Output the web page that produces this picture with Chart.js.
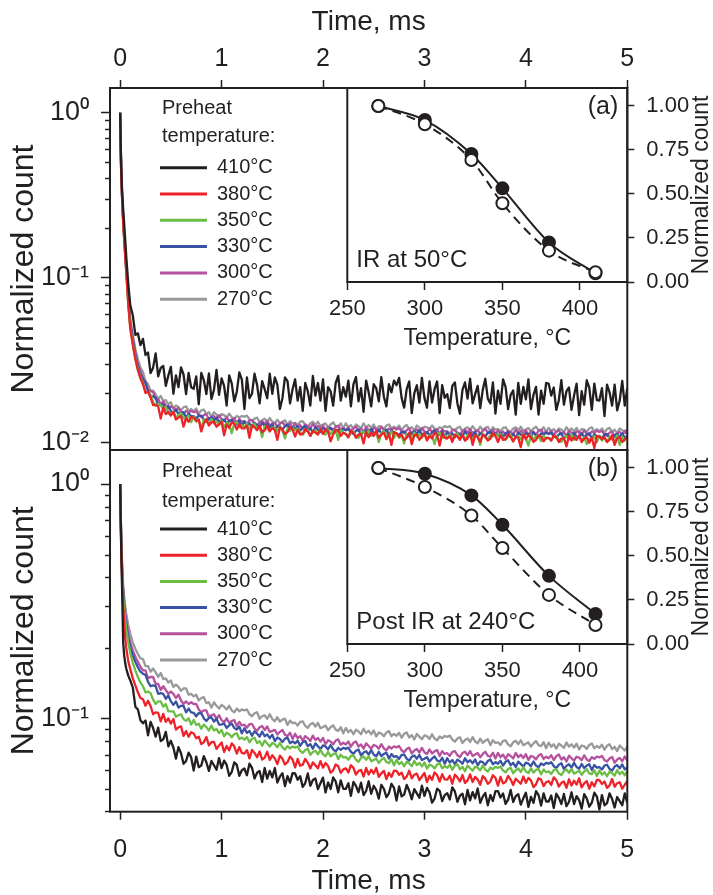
<!DOCTYPE html>
<html><head><meta charset="utf-8">
<script src="https://cdn.jsdelivr.net/npm/chart.js@4.4.1/dist/chart.umd.min.js"></script>
<style>
html,body{margin:0;padding:0;background:#fff;}
#wrap{position:relative;width:713px;height:895px;overflow:hidden;background:#fff;}
canvas{position:absolute;left:0;top:0;}
</style></head><body>
<div id="wrap">
<canvas id="mainA" width="713" height="895"></canvas>
<canvas id="mainB" width="713" height="895"></canvas>
<canvas id="insetA" width="713" height="895"></canvas>
<canvas id="insetB" width="713" height="895"></canvas>
</div>
<script>
// ---------------- DATA ----------------
const tempLabels = ['410°C','380°C','350°C','330°C','300°C','270°C'];
const legendTitle = ['Preheat','temperature:'];
const timeTicks = [0,1,2,3,4,5];
const decadesA = [0.01,0.1,1];
const decadeLabelsA = ['10⁻²','10⁻¹','10⁰'];
const minorA = [0.02,0.03,0.04,0.05,0.06,0.07,0.08,0.09,0.2,0.3,0.4,0.5,0.6,0.7,0.8,0.9];
const decadesB = [0.1,1];
const decadeLabelsB = ['10⁻¹','10⁰'];
const minorB = [0.04,0.05,0.06,0.07,0.08,0.09,0.2,0.3,0.4,0.5,0.6,0.7,0.8,0.9];

// time, ms
const time = [0,0.01,0.02,0.03,0.04,0.05,0.06,0.08,0.1,0.125,0.15,0.175,0.2,
0.225,0.25,0.275,0.3,0.325,0.35,0.375,0.4,0.425,0.45,0.475,0.5,0.525,0.55,0.575,0.6,0.625,0.65,0.675,0.7,
0.725,0.75,0.775,0.8,0.825,0.85,0.875,0.9,0.925,0.95,0.975,1.0,1.025,1.05,1.075,1.1,1.125,1.15,1.175,1.2,
1.225,1.25,1.275,1.3,1.325,1.35,1.375,1.4,1.425,1.45,1.475,1.5,1.525,1.55,1.575,1.6,1.625,1.65,1.675,1.7,
1.725,1.75,1.775,1.8,1.825,1.85,1.875,1.9,1.925,1.95,1.975,2.0,2.025,2.05,2.075,2.1,2.125,2.15,2.175,2.2,
2.225,2.25,2.275,2.3,2.325,2.35,2.375,2.4,2.425,2.45,2.475,2.5,2.525,2.55,2.575,2.6,2.625,2.65,2.675,2.7,
2.725,2.75,2.775,2.8,2.825,2.85,2.875,2.9,2.925,2.95,2.975,3.0,3.025,3.05,3.075,3.1,3.125,3.15,3.175,3.2,
3.225,3.25,3.275,3.3,3.325,3.35,3.375,3.4,3.425,3.45,3.475,3.5,3.525,3.55,3.575,3.6,3.625,3.65,3.675,3.7,
3.725,3.75,3.775,3.8,3.825,3.85,3.875,3.9,3.925,3.95,3.975,4.0,4.025,4.05,4.075,4.1,4.125,4.15,4.175,4.2,
4.225,4.25,4.275,4.3,4.325,4.35,4.375,4.4,4.425,4.45,4.475,4.5,4.525,4.55,4.575,4.6,4.625,4.65,4.675,4.7,
4.725,4.75,4.775,4.8,4.825,4.85,4.875,4.9,4.925,4.95,4.975,5.0];

// (a) IR at 50 °C — normalized counts
const a410 = [1.0,0.48,0.33,0.26,0.21,0.17,0.135,0.092,0.068,0.059,0.045,0.046,0.039,
0.0426,0.034,0.0352,0.0264,0.0285,0.0348,0.0252,0.0284,0.0292,0.0221,0.0255,0.0288,0.0198,0.0256,0.0217,0.0286,0.0259,0.0197,0.0265,0.0217,
0.0212,0.0252,0.0171,0.0265,0.0239,0.0197,0.0263,0.0184,0.0209,0.0276,0.0195,0.0245,0.0221,0.0168,0.0256,0.0229,0.0178,0.0203,0.0267,0.0241,
0.016,0.0249,0.0186,0.0198,0.0262,0.0224,0.0173,0.0236,0.0211,0.0186,0.0262,0.0198,0.0249,0.0224,0.016,0.0186,0.0249,0.0236,0.0173,0.0211,
0.0242,0.018,0.0217,0.0156,0.023,0.0205,0.0168,0.0254,0.0193,0.023,0.018,0.0242,0.0156,0.0217,0.0205,0.0168,0.023,0.0254,0.018,0.0217,
0.019,0.0238,0.0166,0.0226,0.025,0.0178,0.0214,0.0154,0.0238,0.0202,0.0166,0.0226,0.0214,0.0178,0.025,0.019,0.0166,0.0226,0.0202,0.0238,
0.0223,0.0247,0.0187,0.0163,0.0211,0.0235,0.0151,0.0199,0.0223,0.0175,0.0247,0.0187,0.0163,0.0235,0.0175,0.0211,0.0235,0.0151,0.0223,0.0187,
0.0197,0.0162,0.0221,0.0232,0.0173,0.015,0.0209,0.0232,0.0185,0.0244,0.0173,0.0197,0.0221,0.0162,0.0209,0.0244,0.0185,0.0173,0.0232,0.015,
0.0207,0.0172,0.0242,0.0218,0.016,0.0195,0.0207,0.0148,0.023,0.0172,0.0218,0.0183,0.0242,0.016,0.0195,0.0218,0.0148,0.0207,0.0172,0.023,
0.0228,0.0193,0.0216,0.0158,0.0181,0.0239,0.017,0.0205,0.0216,0.0158,0.0193,0.0228,0.0147,0.0205,0.017,0.0239,0.0216,0.0158,0.0228,0.0181,
0.018,0.0214,0.0145,0.0225,0.0202,0.0168,0.0225,0.0157,0.018,0.0237,0.0168,0.0214];
const a380 = [1.0,0.44,0.29,0.215,0.168,0.135,0.108,0.069,0.049,0.039,0.032,0.0275,0.0245,
0.0227,0.02,0.0204,0.0188,0.0169,0.017,0.0166,0.014,0.0163,0.0149,0.0154,0.0146,0.0154,0.0138,0.0142,0.0145,0.0125,0.0141,0.0134,0.0143,
0.0142,0.0135,0.0138,0.0117,0.0131,0.0139,0.0127,0.0133,0.0134,0.0125,0.0129,0.0134,0.0111,0.0129,0.0123,0.0133,0.013,0.012,0.013,0.0122,
0.0122,0.0127,0.0107,0.0128,0.0124,0.0119,0.0127,0.0116,0.0119,0.0127,0.0117,0.0123,0.0119,0.0104,0.0124,0.012,0.0113,0.0116,0.0124,0.012,
0.0109,0.012,0.0112,0.0113,0.0121,0.0117,0.011,0.0118,0.0115,0.0112,0.0121,0.0113,0.012,0.0117,0.0102,0.0112,0.012,0.0118,0.011,0.0115,
0.0113,0.0108,0.0118,0.0115,0.0107,0.0112,0.0113,0.0099,0.0116,0.0108,0.0115,0.011,0.0118,0.0107,0.0112,0.0115,0.0105,0.0113,0.0097,0.0116,
0.0114,0.0109,0.0112,0.0104,0.0107,0.0115,0.0098,0.0111,0.0112,0.0104,0.0109,0.0114,0.0103,0.011,0.0106,0.0115,0.0112,0.0096,0.0114,0.0107,
0.0106,0.011,0.0101,0.0112,0.0109,0.0104,0.0112,0.0103,0.0106,0.0114,0.0097,0.0111,0.0108,0.0101,0.0112,0.0109,0.0103,0.0106,0.0114,0.011,
0.0101,0.0111,0.0104,0.0105,0.0112,0.0108,0.0102,0.0109,0.0107,0.0094,0.0112,0.0105,0.0111,0.0108,0.0101,0.0104,0.0111,0.0109,0.0102,0.0107,
0.0107,0.0103,0.0111,0.0108,0.0101,0.0106,0.0107,0.0095,0.011,0.0103,0.0108,0.0104,0.0111,0.0101,0.0106,0.0108,0.01,0.0107,0.0093,0.011,
0.0109,0.0105,0.0108,0.0101,0.0104,0.0111,0.0097,0.0106,0.0108,0.0101,0.0105,0.0109];
const a350 = [1.0,0.45,0.295,0.22,0.17,0.138,0.11,0.07,0.05,0.040,0.0325,0.028,0.025,
0.0229,0.0203,0.0203,0.0195,0.0177,0.0167,0.0171,0.017,0.0158,0.0165,0.015,0.0151,0.0153,0.0142,0.0147,0.0151,0.0141,0.0139,0.0146,0.0133,
0.0144,0.0135,0.0139,0.012,0.0138,0.0135,0.0129,0.0139,0.0131,0.0135,0.0128,0.0136,0.0124,0.0132,0.0129,0.0114,0.0131,0.0133,0.0124,0.0128,
0.0124,0.0131,0.012,0.0128,0.013,0.0121,0.0124,0.0108,0.0126,0.0122,0.0118,0.0124,0.0122,0.0117,0.0126,0.0118,0.0106,0.0122,0.0118,0.0122,
0.0119,0.0122,0.0115,0.0112,0.0117,0.012,0.011,0.0116,0.0119,0.0113,0.0121,0.0115,0.0112,0.012,0.0113,0.0117,0.012,0.0104,0.0119,0.0115,
0.0113,0.0108,0.0115,0.0117,0.011,0.0107,0.0114,0.0117,0.0111,0.0118,0.011,0.0113,0.0115,0.0101,0.0114,0.0118,0.0111,0.011,0.0117,0.0107,
0.0114,0.0107,0.0111,0.0099,0.0113,0.011,0.0106,0.0115,0.0109,0.0113,0.0107,0.0114,0.0105,0.0111,0.011,0.0098,0.0113,0.0115,0.0107,0.0111,
0.0107,0.0112,0.0105,0.0111,0.0114,0.0106,0.011,0.0103,0.0112,0.0109,0.0105,0.0111,0.011,0.0097,0.0114,0.0107,0.0105,0.0111,0.0109,0.0112,
0.011,0.0113,0.0106,0.0104,0.0109,0.0111,0.0102,0.0108,0.011,0.0105,0.0113,0.0106,0.0096,0.0111,0.0105,0.0109,0.0111,0.0102,0.011,0.0106,
0.0107,0.0103,0.0109,0.011,0.0104,0.0101,0.0108,0.011,0.0105,0.0112,0.0104,0.0107,0.0109,0.0103,0.0108,0.0098,0.0105,0.0104,0.011,0.0101,
0.011,0.0103,0.0107,0.0101,0.0109,0.0106,0.0102,0.0111,0.0097,0.0109,0.0103,0.011];
const a330 = [1.0,0.45,0.30,0.225,0.175,0.142,0.114,0.073,0.052,0.042,0.034,0.029,0.026,
0.0243,0.0229,0.0205,0.019,0.0191,0.0187,0.0169,0.0171,0.017,0.0161,0.0167,0.0156,0.0151,0.0159,0.0149,0.0152,0.0153,0.0142,0.015,0.0145,
0.0145,0.014,0.0146,0.0146,0.0138,0.0134,0.014,0.0142,0.0137,0.0142,0.0134,0.0136,0.0138,0.0131,0.0135,0.0138,0.0132,0.0129,0.0136,0.0126,
0.0135,0.0127,0.0131,0.0124,0.0132,0.0128,0.0124,0.0132,0.0126,0.013,0.0123,0.013,0.012,0.0126,0.0125,0.012,0.0126,0.0129,0.0121,0.0124,
0.0121,0.0126,0.0118,0.0124,0.0126,0.0119,0.0122,0.0116,0.0124,0.012,0.0116,0.0122,0.0121,0.0117,0.0123,0.0118,0.0115,0.012,0.0118,0.0121,
0.0119,0.0121,0.0115,0.0113,0.0118,0.012,0.0112,0.0117,0.0119,0.0114,0.0121,0.0115,0.0113,0.012,0.0114,0.0118,0.012,0.0112,0.0119,0.0115,
0.0114,0.0111,0.0116,0.0117,0.0112,0.0109,0.0115,0.0117,0.0113,0.0119,0.0112,0.0114,0.0116,0.0111,0.0115,0.0119,0.0113,0.0112,0.0117,0.0109,
0.0116,0.011,0.0114,0.0108,0.0115,0.0113,0.0109,0.0117,0.0111,0.0115,0.011,0.0116,0.0108,0.0114,0.0113,0.0109,0.0115,0.0117,0.011,0.0114,
0.011,0.0115,0.0108,0.0114,0.0116,0.0109,0.0113,0.0107,0.0115,0.0112,0.0108,0.0114,0.0113,0.0109,0.0116,0.011,0.0108,0.0114,0.0112,0.0115,
0.0113,0.0115,0.0109,0.0107,0.0112,0.0114,0.0106,0.011,0.0113,0.0108,0.0115,0.0109,0.0107,0.0114,0.0108,0.0112,0.0114,0.0106,0.0113,0.0109,
0.011,0.0106,0.0112,0.0113,0.0107,0.0105,0.0111,0.0113,0.0108,0.0114,0.0107,0.011];
const a300 = [1.0,0.46,0.30,0.23,0.18,0.146,0.117,0.075,0.054,0.043,0.035,0.030,0.027,
0.0246,0.0236,0.0209,0.0207,0.0203,0.0184,0.0184,0.017,0.0178,0.0169,0.0161,0.0166,0.0163,0.0156,0.0163,0.0153,0.0149,0.0156,0.0152,0.0156,
0.0153,0.0155,0.0147,0.0143,0.0147,0.0149,0.0138,0.0143,0.0145,0.0138,0.0147,0.0139,0.0135,0.0143,0.0135,0.0138,0.0141,0.0131,0.0139,0.0134,
0.0135,0.013,0.0137,0.0137,0.013,0.0127,0.0133,0.0135,0.013,0.0136,0.0127,0.013,0.0132,0.0125,0.013,0.0133,0.0127,0.0125,0.0131,0.0122,
0.0131,0.0124,0.0128,0.0121,0.0129,0.0126,0.0122,0.013,0.0124,0.0126,0.0122,0.0127,0.0119,0.0124,0.0123,0.0119,0.0125,0.0127,0.012,0.0123,
0.0119,0.0124,0.0117,0.0123,0.0125,0.0118,0.0122,0.0116,0.0124,0.012,0.0117,0.0123,0.0121,0.0118,0.0125,0.0119,0.0117,0.0122,0.012,0.0123,
0.012,0.0123,0.0117,0.0114,0.0119,0.0122,0.0113,0.0118,0.012,0.0116,0.0123,0.0117,0.0114,0.0122,0.0116,0.0119,0.0121,0.0113,0.012,0.0117,
0.0117,0.0113,0.0119,0.012,0.0114,0.0112,0.0118,0.012,0.0115,0.0121,0.0114,0.0117,0.0119,0.0113,0.0118,0.0121,0.0115,0.0114,0.012,0.0112,
0.0119,0.0113,0.0117,0.0111,0.0118,0.0116,0.0112,0.012,0.0114,0.0118,0.0113,0.0119,0.0111,0.0117,0.0116,0.0112,0.0118,0.012,0.0113,0.0117,
0.0113,0.0118,0.0111,0.0117,0.0119,0.0112,0.0116,0.011,0.0118,0.0115,0.0111,0.0117,0.0116,0.0112,0.0119,0.0113,0.0111,0.0117,0.0115,0.0118,
0.0116,0.0118,0.0112,0.011,0.0115,0.0117,0.0109,0.0114,0.0116,0.0111,0.0118,0.0112];
const a270 = [1.0,0.47,0.31,0.235,0.185,0.15,0.12,0.078,0.056,0.045,0.037,0.032,0.0285,
0.0268,0.0235,0.0227,0.0204,0.0207,0.0196,0.0184,0.0192,0.0179,0.0181,0.0171,0.0176,0.0161,0.0168,0.0164,0.0157,0.0164,0.0166,0.0156,0.016,
0.0155,0.0161,0.015,0.0157,0.0159,0.0149,0.0153,0.0144,0.0153,0.0148,0.0143,0.0149,0.0147,0.0142,0.015,0.0143,0.0139,0.0145,0.0142,0.0145,
0.0144,0.0146,0.0139,0.0135,0.014,0.0142,0.0132,0.0137,0.014,0.0133,0.0141,0.0134,0.0131,0.0138,0.0131,0.0134,0.0137,0.0128,0.0135,0.0131,
0.0132,0.0128,0.0134,0.0135,0.0128,0.0125,0.0131,0.0134,0.0128,0.0134,0.0126,0.0129,0.0131,0.0124,0.0129,0.0133,0.0126,0.0124,0.0131,0.0122,
0.0131,0.0124,0.0128,0.0121,0.0129,0.0126,0.0122,0.0131,0.0124,0.0128,0.0123,0.0129,0.012,0.0126,0.0125,0.0121,0.0127,0.0129,0.0122,0.0125,
0.0122,0.0127,0.0119,0.0125,0.0128,0.0121,0.0124,0.0118,0.0127,0.0123,0.0119,0.0125,0.0124,0.0121,0.0127,0.0122,0.0119,0.0124,0.0122,0.0126,
0.0124,0.0126,0.012,0.0118,0.0123,0.0125,0.0117,0.0122,0.0124,0.0119,0.0126,0.012,0.0118,0.0125,0.0119,0.0123,0.0125,0.0117,0.0124,0.012,
0.0121,0.0117,0.0123,0.0124,0.0118,0.0116,0.0122,0.0124,0.0119,0.0125,0.0118,0.012,0.0123,0.0117,0.0122,0.0125,0.0119,0.0118,0.0124,0.0116,
0.0123,0.0117,0.0121,0.0115,0.0122,0.012,0.0116,0.0124,0.0118,0.0122,0.0117,0.0123,0.0115,0.0121,0.012,0.0116,0.0122,0.0124,0.0117,0.0121,
0.0117,0.0122,0.0115,0.0121,0.0123,0.0116,0.012,0.0114,0.0122,0.0119,0.0115,0.0121];

// (b) Post IR at 240 °C — normalized counts
const b410 = [1.0,0.55,0.34,0.21,0.185,0.172,0.163,0.152,0.145,0.135,0.112,0.109,0.098,
0.0951,0.0978,0.0846,0.0965,0.0908,0.0835,0.0912,0.0799,0.0813,0.0875,0.0758,0.0801,0.075,0.0672,0.0753,0.0709,0.0639,0.0657,0.0713,0.0681,
0.0598,0.0686,0.0618,0.0628,0.0689,0.0649,0.0596,0.0657,0.063,0.0603,0.0676,0.0612,0.0659,0.0632,0.0568,0.0589,0.0648,0.0632,0.0568,0.060,
0.061,0.0571,0.064,0.0614,0.0553,0.0585,0.0595,0.0534,0.0613,0.0552,0.0596,0.0559,0.0613,0.0531,0.0563,0.0582,0.0513,0.0566,0.0531,0.0583,
0.0581,0.0546,0.0566,0.0509,0.0529,0.0581,0.0515,0.0545,0.0553,0.0498,0.0528,0.0558,0.0482,0.0532,0.0499,0.0559,0.0537,0.0483,0.0543,0.05,
0.0499,0.0528,0.0466,0.0535,0.0514,0.0483,0.0531,0.047,0.0489,0.0538,0.0476,0.0515,0.0494,0.0454,0.052,0.05,0.046,0.0478,0.0525,0.0504,
0.0445,0.0512,0.0464,0.0472,0.0519,0.049,0.0451,0.0498,0.0478,0.0458,0.0515,0.0466,0.0504,0.0483,0.0436,0.0454,0.05,0.049,0.0443,0.047,
0.0479,0.045,0.0507,0.0487,0.044,0.0467,0.0476,0.0429,0.0494,0.0446,0.0484,0.0455,0.0501,0.0435,0.0463,0.048,0.0425,0.047,0.0443,0.0488,
0.0488,0.0459,0.0477,0.0431,0.0449,0.0494,0.0439,0.0465,0.0474,0.0428,0.0455,0.0481,0.0418,0.0462,0.0435,0.0488,0.047,0.0424,0.0478,0.0441,
0.0441,0.0468,0.0414,0.0476,0.0457,0.043,0.0475,0.0421,0.0439,0.0483,0.043,0.0465,0.0447,0.0411,0.0474,0.0455,0.0419,0.0436,0.0481,0.0463,
0.0408,0.047,0.0425,0.0434,0.0478,0.0452,0.0416,0.0461,0.0443,0.0425,0.0478,0.0434];
const b380 = [1.0,0.55,0.38,0.30,0.25,0.22,0.20,0.175,0.162,0.148,0.138,0.129,0.122,
0.1205,0.1131,0.1187,0.1128,0.104,0.106,0.1053,0.0969,0.1043,0.0965,0.0999,0.0948,0.0992,0.0895,0.0915,0.0923,0.0841,0.0881,0.0834,0.0872,
0.0861,0.0822,0.0834,0.0776,0.0789,0.0832,0.0766,0.079,0.0793,0.074,0.0764,0.0789,0.0718,0.0761,0.0729,0.0781,0.0759,0.0706,0.0753,0.0711,
0.0707,0.0731,0.0674,0.0732,0.0711,0.0682,0.0721,0.0666,0.0679,0.0719,0.0664,0.0695,0.0674,0.0637,0.0692,0.0672,0.0635,0.0649,0.0686,0.0666,
0.0616,0.067,0.0627,0.0633,0.0671,0.0645,0.061,0.0648,0.063,0.0611,0.0656,0.0615,0.0644,0.0626,0.0585,0.0599,0.0635,0.0624,0.0584,0.0605,
0.0611,0.0587,0.063,0.0614,0.0575,0.0596,0.0601,0.0563,0.0613,0.0575,0.0603,0.058,0.0614,0.0562,0.0582,0.0596,0.055,0.0585,0.0562,0.0597,
0.0596,0.0573,0.0586,0.055,0.0563,0.0597,0.0554,0.0574,0.058,0.0544,0.0564,0.0584,0.0534,0.0568,0.0546,0.0587,0.0572,0.0536,0.0577,0.0548,
0.0547,0.0568,0.0525,0.0574,0.0559,0.0537,0.0572,0.0529,0.0543,0.0576,0.0534,0.0562,0.0547,0.052,0.0566,0.0552,0.0525,0.0537,0.0571,0.0557,
0.0515,0.0562,0.0527,0.0534,0.0567,0.0547,0.0519,0.0552,0.0538,0.0525,0.0564,0.053,0.0556,0.0543,0.0508,0.0522,0.0554,0.0547,0.0513,0.0533,
0.0539,0.0519,0.0559,0.0544,0.0511,0.053,0.0537,0.0504,0.0549,0.0516,0.0541,0.0521,0.0554,0.0507,0.0527,0.0539,0.05,0.0533,0.0512,0.0545,
0.0544,0.0524,0.0537,0.0504,0.0517,0.055,0.051,0.0528,0.0533,0.05,0.052,0.0539];
const b350 = [1.0,0.58,0.41,0.33,0.29,0.26,0.24,0.21,0.19,0.172,0.16,0.150,0.142,
0.137,0.129,0.130,0.128,0.120,0.115,0.118,0.118,0.112,0.115,0.107,0.107,0.107,0.1015,0.103,0.104,0.0992,0.0974,0.100,0.0939,
0.0983,0.0935,0.0948,0.0902,0.0939,0.0916,0.0886,0.0929,0.0886,0.09,0.0864,0.0891,0.0837,0.0867,0.0855,0.083,0.0856,0.0863,0.0815,0.0827,
0.081,0.0831,0.0789,0.0817,0.0826,0.0783,0.0798,0.0763,0.0803,0.078,0.0757,0.0784,0.0774,0.0752,0.0784,0.075,0.0734,0.076,0.0744,0.0758,
0.0749,0.0757,0.0726,0.0711,0.0732,0.0741,0.0698,0.0718,0.0726,0.0702,0.0733,0.0701,0.0688,0.0719,0.0688,0.0702,0.0711,0.0669,0.0699,0.068,
0.0683,0.0665,0.069,0.0694,0.0665,0.0652,0.0677,0.0687,0.0664,0.0688,0.0655,0.0664,0.0673,0.0644,0.0664,0.0678,0.065,0.0643,0.0668,0.0629,
0.0664,0.0637,0.065,0.0623,0.0652,0.0641,0.0624,0.0658,0.0631,0.0645,0.0623,0.0647,0.061,0.0634,0.0627,0.0611,0.0634,0.0643,0.0611,0.0625,
0.0614,0.0633,0.0603,0.0627,0.0636,0.0605,0.062,0.0594,0.0628,0.0612,0.0597,0.0621,0.0615,0.0599,0.0628,0.0603,0.0592,0.0616,0.0606,0.062,
0.0614,0.0622,0.0598,0.0588,0.0607,0.0615,0.0582,0.06,0.061,0.0589,0.0618,0.0593,0.0583,0.0611,0.0586,0.0601,0.0609,0.0576,0.0604,0.0588,
0.0593,0.0578,0.0601,0.0606,0.0582,0.0572,0.0595,0.0604,0.0585,0.0608,0.058,0.0588,0.0597,0.0574,0.0592,0.0606,0.0581,0.0577,0.06,0.0566,
0.0598,0.0575,0.0588,0.0565,0.0592,0.0582,0.0568,0.0601,0.0577,0.0591,0.0571,0.0594];
const b330 = [1.0,0.59,0.42,0.34,0.30,0.27,0.25,0.22,0.20,0.185,0.174,0.165,0.158,
0.155,0.153,0.143,0.137,0.138,0.137,0.127,0.128,0.127,0.121,0.125,0.118,0.114,0.118,0.111,0.113,0.113,0.106,0.110,0.106,
0.1055,0.102,0.1052,0.105,0.0999,0.0973,0.1003,0.1009,0.0967,0.0996,0.094,0.094,0.095,0.0908,0.0932,0.0949,0.0908,0.0895,0.0922,0.0862,
0.0906,0.0866,0.0882,0.0842,0.0879,0.086,0.0834,0.0877,0.0838,0.0853,0.0822,0.085,0.0799,0.0827,0.0815,0.0791,0.0818,0.0826,0.0782,0.0796,
0.0781,0.0803,0.0762,0.079,0.08,0.076,0.0775,0.0741,0.0781,0.076,0.0739,0.0766,0.0757,0.0736,0.0769,0.0736,0.0721,0.0748,0.0733,0.0748,
0.074,0.0749,0.0718,0.0705,0.0726,0.0735,0.0693,0.0714,0.0723,0.0699,0.0731,0.07,0.0687,0.0719,0.0689,0.0704,0.0713,0.0672,0.0703,0.0684,
0.0689,0.067,0.0697,0.07,0.0672,0.0659,0.0685,0.0694,0.0672,0.0697,0.0663,0.0672,0.0682,0.0653,0.0673,0.0687,0.066,0.0652,0.0678,0.0639,
0.0675,0.0647,0.0663,0.0636,0.0666,0.0655,0.0639,0.0675,0.0648,0.0662,0.0642,0.0667,0.0629,0.0654,0.0649,0.0632,0.0657,0.0667,0.0636,0.065,
0.0639,0.0658,0.0628,0.0652,0.0662,0.063,0.0645,0.0619,0.0653,0.0637,0.0622,0.0646,0.064,0.0624,0.0654,0.0628,0.0617,0.0641,0.0631,0.0645,
0.064,0.0649,0.0624,0.0613,0.0633,0.0642,0.0607,0.0626,0.0636,0.0615,0.0645,0.0619,0.0609,0.0638,0.0613,0.0627,0.0637,0.0601,0.0631,0.0615,
0.0619,0.0604,0.0628,0.0633,0.0608,0.0598,0.0622,0.0631,0.0611,0.0635,0.0605,0.0615];
const b300 = [1.0,0.60,0.43,0.35,0.31,0.28,0.26,0.23,0.21,0.195,0.183,0.174,0.166,
0.160,0.160,0.148,0.150,0.150,0.140,0.140,0.132,0.137,0.132,0.127,0.130,0.127,0.122,0.126,0.119,0.115,0.118,0.115,0.117,
0.115,0.115,0.109,0.106,0.108,0.108,0.101,0.103,0.104,0.0994,0.103,0.0982,0.0961,0.100,0.0954,0.0973,0.0983,0.0924,0.0965,0.0932,
0.0938,0.0911,0.0943,0.0945,0.0903,0.0884,0.0915,0.0925,0.0891,0.0922,0.0874,0.0883,0.0892,0.0852,0.0875,0.0891,0.0851,0.0839,0.0868,0.0816,
0.0858,0.0822,0.0839,0.0802,0.0839,0.0823,0.08,0.0843,0.0807,0.0824,0.0795,0.0824,0.0776,0.0805,0.0796,0.0774,0.0803,0.0812,0.0771,0.0786,
0.0773,0.0796,0.0756,0.0785,0.0796,0.0757,0.0773,0.0741,0.0781,0.0761,0.0741,0.0769,0.0761,0.0741,0.0775,0.0743,0.0729,0.0757,0.0743,0.0758,
0.0751,0.0761,0.073,0.0716,0.0739,0.0749,0.0707,0.0728,0.0739,0.0713,0.0747,0.0716,0.0704,0.0736,0.0707,0.0722,0.0732,0.069,0.0723,0.0704,
0.0709,0.0691,0.0718,0.0723,0.0695,0.0682,0.071,0.072,0.0696,0.0724,0.069,0.07,0.071,0.0682,0.0704,0.0719,0.0691,0.0685,0.0712,0.0673,
0.0711,0.0682,0.0699,0.067,0.0702,0.069,0.0673,0.0711,0.0682,0.0698,0.0676,0.0702,0.0663,0.069,0.0684,0.0667,0.0693,0.0703,0.067,0.0685,
0.0675,0.0695,0.0663,0.0689,0.07,0.0666,0.0682,0.0654,0.0692,0.0675,0.0659,0.0685,0.0679,0.0662,0.0695,0.0667,0.0656,0.0682,0.0671,0.0686,
0.068,0.069,0.0663,0.0653,0.0673,0.0684,0.0646,0.0667,0.0677,0.0655,0.0686,0.066];
const b270 = [1.0,0.62,0.45,0.37,0.33,0.30,0.28,0.25,0.23,0.21,0.198,0.188,0.180,
0.179,0.167,0.167,0.158,0.163,0.157,0.150,0.156,0.147,0.148,0.142,0.145,0.136,0.139,0.136,0.131,0.134,0.134,0.126,0.127,
0.124,0.126,0.119,0.122,0.123,0.116,0.117,0.111,0.117,0.113,0.110,0.114,0.112,0.109,0.113,0.108,0.106,0.110,0.107,0.109,
0.108,0.109,0.104,0.102,0.105,0.106,0.0995,0.102,0.103,0.0995,0.104,0.0992,0.0971,0.101,0.0968,0.0986,0.0996,0.0936,0.0977,0.0952,
0.0957,0.093,0.0965,0.0969,0.0928,0.0909,0.0943,0.0954,0.0922,0.0955,0.0907,0.0918,0.093,0.0889,0.0915,0.0933,0.0894,0.0883,0.0915,0.0862,
0.0909,0.0872,0.0891,0.0854,0.0894,0.0878,0.0855,0.0902,0.0865,0.0884,0.0854,0.0887,0.0836,0.0869,0.086,0.0837,0.087,0.0881,0.0838,0.0857,
0.0842,0.0867,0.0826,0.0858,0.087,0.0828,0.0847,0.0811,0.0857,0.0835,0.0814,0.0845,0.0838,0.0816,0.0854,0.0819,0.0805,0.0836,0.0822,0.084,
0.0832,0.0843,0.081,0.0794,0.082,0.083,0.0784,0.0808,0.082,0.0792,0.083,0.0796,0.0782,0.0818,0.0785,0.0802,0.0814,0.0768,0.0805,0.0784,
0.0789,0.0769,0.08,0.0805,0.0772,0.0759,0.0789,0.0801,0.0775,0.0805,0.0767,0.0778,0.0789,0.0757,0.0781,0.0799,0.0767,0.076,0.079,0.0745,
0.0787,0.0756,0.0774,0.0742,0.0778,0.0765,0.0747,0.0788,0.0757,0.0774,0.075,0.0779,0.0736,0.0765,0.0759,0.074,0.0769,0.078,0.0744,0.0761,
0.0748,0.0771,0.0734,0.0763,0.0774,0.0737,0.0755,0.0724,0.0765,0.0746,0.0728,0.0757];

// insets: normalized count vs preheat temperature
const insetTemps = [270,300,330,350,380,410];
const insetXTicks = [250,300,350,400];
const insetYTicks = [0,0.25,0.5,0.75,1.0];
const aFilled = [1.00,0.92,0.727,0.532,0.225,0.05];
const aOpen   = [1.00,0.896,0.693,0.447,0.178,0.055];
const bFilled = [1.00,0.967,0.844,0.677,0.387,0.171];
const bOpen   = [1.00,0.892,0.730,0.545,0.279,0.108];

[a410,a380,a350,a330,a300,a270,b410,b380,b350,b330,b300,b270].forEach((s, i) => {
  if (s.length !== time.length) console.error('series ' + i + ' length ' + s.length + ' vs ' + time.length);
});

// ---------------- STYLE ----------------
const FAM = "'Liberation Sans', Arial, Helvetica, sans-serif";
const INK = '#231f20';
const seriesColors = ['#231f20','#ee2228','#6cbd45','#3953a4','#b5519d','#98999b'];

const pts = (xs, ys) => xs.map((x, i) => ({x: x, y: ys[i]}));

const framePlugin = {
  id: 'frame',
  afterDraw(chart, args, o) {
    const {ctx, chartArea: a} = chart;
    ctx.save();
    ctx.strokeStyle = INK; ctx.lineWidth = 2;
    ctx.strokeRect(a.left, a.top, a.right - a.left, a.bottom - a.top);
    if (o && o.minor) {
      const s = chart.scales.y;
      ctx.lineWidth = 1.5;
      o.minor.forEach(v => {
        const y = Math.round(s.getPixelForValue(v)) + 0.5;
        ctx.beginPath(); ctx.moveTo(a.left - 5, y); ctx.lineTo(a.left, y); ctx.stroke();
      });
    }
    ctx.restore();
  }
};

const legendPlugin = {
  id: 'tempLegend',
  afterDraw(chart, args, o) {
    if (!o || !o.show) return;
    const {ctx, chartArea: a} = chart;
    ctx.save();
    ctx.font = '20px ' + FAM; ctx.fillStyle = INK;
    ctx.textBaseline = 'middle'; ctx.textAlign = 'left';
    const x0 = a.left + 50;
    legendTitle.forEach((t, i) => ctx.fillText(t, x0 + 2, a.top + o.titleY[i]));
    chart.data.datasets.forEach((ds, i) => {
      const y = a.top + o.itemY + i * o.step;
      ctx.strokeStyle = ds.borderColor; ctx.lineWidth = 3;
      ctx.beginPath(); ctx.moveTo(x0, y); ctx.lineTo(x0 + 47, y); ctx.stroke();
      ctx.fillText(ds.label, x0 + 57, y);
    });
    ctx.restore();
  }
};

const insetTextPlugin = {
  id: 'insetText',
  afterDraw(chart, args, o) {
    if (!o || !o.tag) return;
    const {ctx, chartArea: a} = chart;
    ctx.save();
    ctx.fillStyle = INK;
    ctx.textBaseline = 'middle';
    ctx.font = '25px ' + FAM; ctx.textAlign = 'right';
    ctx.fillText(o.tag, a.right - 9, a.top + 19);
    ctx.font = '24px ' + FAM; ctx.textAlign = 'left';
    ctx.fillText(o.note, a.left + 9, a.bottom - 22);
    ctx.font = '23px ' + FAM; ctx.textAlign = 'center';
    ctx.translate(702, (a.top + a.bottom) / 2);
    ctx.rotate(-Math.PI / 2);
    ctx.fillText('Normalized count', 0, 0);
    ctx.restore();
  }
};

Chart.defaults.font.family = FAM;
Chart.defaults.color = INK;

function mainConfig(series, top, bottomAxis, yMin, yMax, decades, decadeLabels, minor, legendPos) {
  const xAxis = {
    type: 'linear', position: bottomAxis ? 'bottom' : 'top', min: -0.1, max: 5,
    afterBuildTicks: s => { s.ticks = timeTicks.map(v => ({value: v})); },
    afterFit: s => { s.height = bottomAxis ? 83.3 : 88; },
    grid: {drawOnChartArea: false, drawTicks: true, tickLength: 8, tickWidth: 1.5, tickColor: INK},
    border: {display: false},
    ticks: {font: {family: FAM, size: 25, lineHeight: 1}, color: INK, padding: bottomAxis ? 18 : 8.5,
            maxRotation: 0, autoSkip: false, callback: v => String(v)},
    title: {display: true, text: 'Time, ms', color: INK, font: {family: FAM, size: 28, lineHeight: 1},
            padding: bottomAxis ? {top: 0, bottom: 0} : {top: 8, bottom: 0}}
  };
  const yAxis = {
    type: 'logarithmic', position: 'left', min: yMin, max: yMax,
    afterBuildTicks: s => { s.ticks = decades.map(v => ({value: v})); },
    afterFit: s => { s.width = 110; },
    grid: {drawOnChartArea: false, drawTicks: true, tickLength: 9, tickWidth: 1.5, tickColor: INK},
    border: {display: false},
    ticks: {font: {family: FAM, size: 27, lineHeight: 1}, color: INK, padding: 12, autoSkip: false,
            callback: (v, i) => decadeLabels[i]},
    title: {display: true, text: 'Normalized count', color: INK, font: {family: FAM, size: 32, lineHeight: 1},
            padding: {top: 8, bottom: 0}}
  };
  return {
    type: 'line',
    data: {datasets: series.map((s, i) => ({
      label: tempLabels[i], data: pts(time, s), borderColor: seriesColors[i],
      borderWidth: 2.3, pointRadius: 0, tension: 0, borderJoinStyle: 'round', fill: false
    }))},
    options: {
      responsive: false, animation: false, devicePixelRatio: 1, events: [],
      layout: {padding: {left: 0, right: 85.7, top: top, bottom: bottomAxis ? 0 : 445}},
      scales: {x: xAxis, y: yAxis},
      plugins: {legend: {display: false}, tooltip: {enabled: false},
                frame: {minor: minor}, tempLegend: legendPos}
    },
    plugins: [framePlugin, legendPlugin]
  };
}

function insetConfig(top, filled, open, tag, note) {
  const h = 194, xH = 68.5;
  return {
    type: 'line',
    data: {datasets: [
      {label: 'open', data: pts(insetTemps, open), borderColor: INK, borderWidth: 2, borderDash: [9, 6],
       pointRadius: 6, pointBorderWidth: 2, pointBackgroundColor: '#ffffff', pointBorderColor: INK,
       cubicInterpolationMode: 'monotone', fill: false, order: 0},
      {label: 'filled', data: pts(insetTemps, filled), borderColor: INK, borderWidth: 2,
       pointRadius: 6, pointBorderWidth: 2, pointBackgroundColor: INK, pointBorderColor: INK,
       cubicInterpolationMode: 'monotone', fill: false, order: 1}
    ]},
    options: {
      responsive: false, animation: false, devicePixelRatio: 1, events: [],
      layout: {padding: {left: 347.3, right: 0, top: top, bottom: 895 - top - h - xH}},
      scales: {
        x: {type: 'linear', position: 'bottom', min: 250, max: 430.5,
            afterBuildTicks: s => { s.ticks = insetXTicks.map(v => ({value: v})); },
            afterFit: s => { s.height = xH; },
            grid: {drawOnChartArea: false, drawTicks: true, tickLength: 8, tickWidth: 1.5, tickColor: INK},
            border: {display: false},
            ticks: {font: {family: FAM, size: 22, lineHeight: 1}, color: INK, padding: 8, maxRotation: 0, autoSkip: false,
                    callback: v => String(v)},
            title: {display: true, text: 'Temperature, °C', color: INK, font: {family: FAM, size: 23, lineHeight: 1},
                    padding: {top: 0, bottom: 0}}},
        y: {type: 'linear', position: 'right', min: 0, max: 1.102,
            afterBuildTicks: s => { s.ticks = insetYTicks.map(v => ({value: v})); },
            afterFit: s => { s.width = 85.7; },
            grid: {drawOnChartArea: false, drawTicks: true, tickLength: 7, tickWidth: 1.5, tickColor: INK},
            border: {display: false},
            ticks: {font: {family: FAM, size: 22, lineHeight: 1}, color: INK, padding: 12, autoSkip: false,
                    callback: v => Number(v).toFixed(2)}}
      },
      plugins: {legend: {display: false}, tooltip: {enabled: false},
                frame: {}, insetText: {tag: tag, note: note}}
    },
    plugins: [framePlugin, insetTextPlugin]
  };
}

new Chart(document.getElementById('mainA'),
  mainConfig([a410, a380, a350, a330, a300, a270], 0, false, 0.00903, 1.412, decadesA, decadeLabelsA, minorA,
             {show: true, titleY: [20, 48.7], itemY: 79.7, step: 26.3}));
new Chart(document.getElementById('mainB'),
  mainConfig([b410, b380, b350, b330, b300, b270], 450, true, 0.0399, 1.397, decadesB, decadeLabelsB, minorB,
             {show: true, titleY: [21.7, 51.7], itemY: 79, step: 26.2}));
new Chart(document.getElementById('insetA'), insetConfig(88, aFilled, aOpen, '(a)', 'IR at 50°C'));
new Chart(document.getElementById('insetB'), insetConfig(450, bFilled, bOpen, '(b)', 'Post IR at 240°C'));
</script>
</body></html>
